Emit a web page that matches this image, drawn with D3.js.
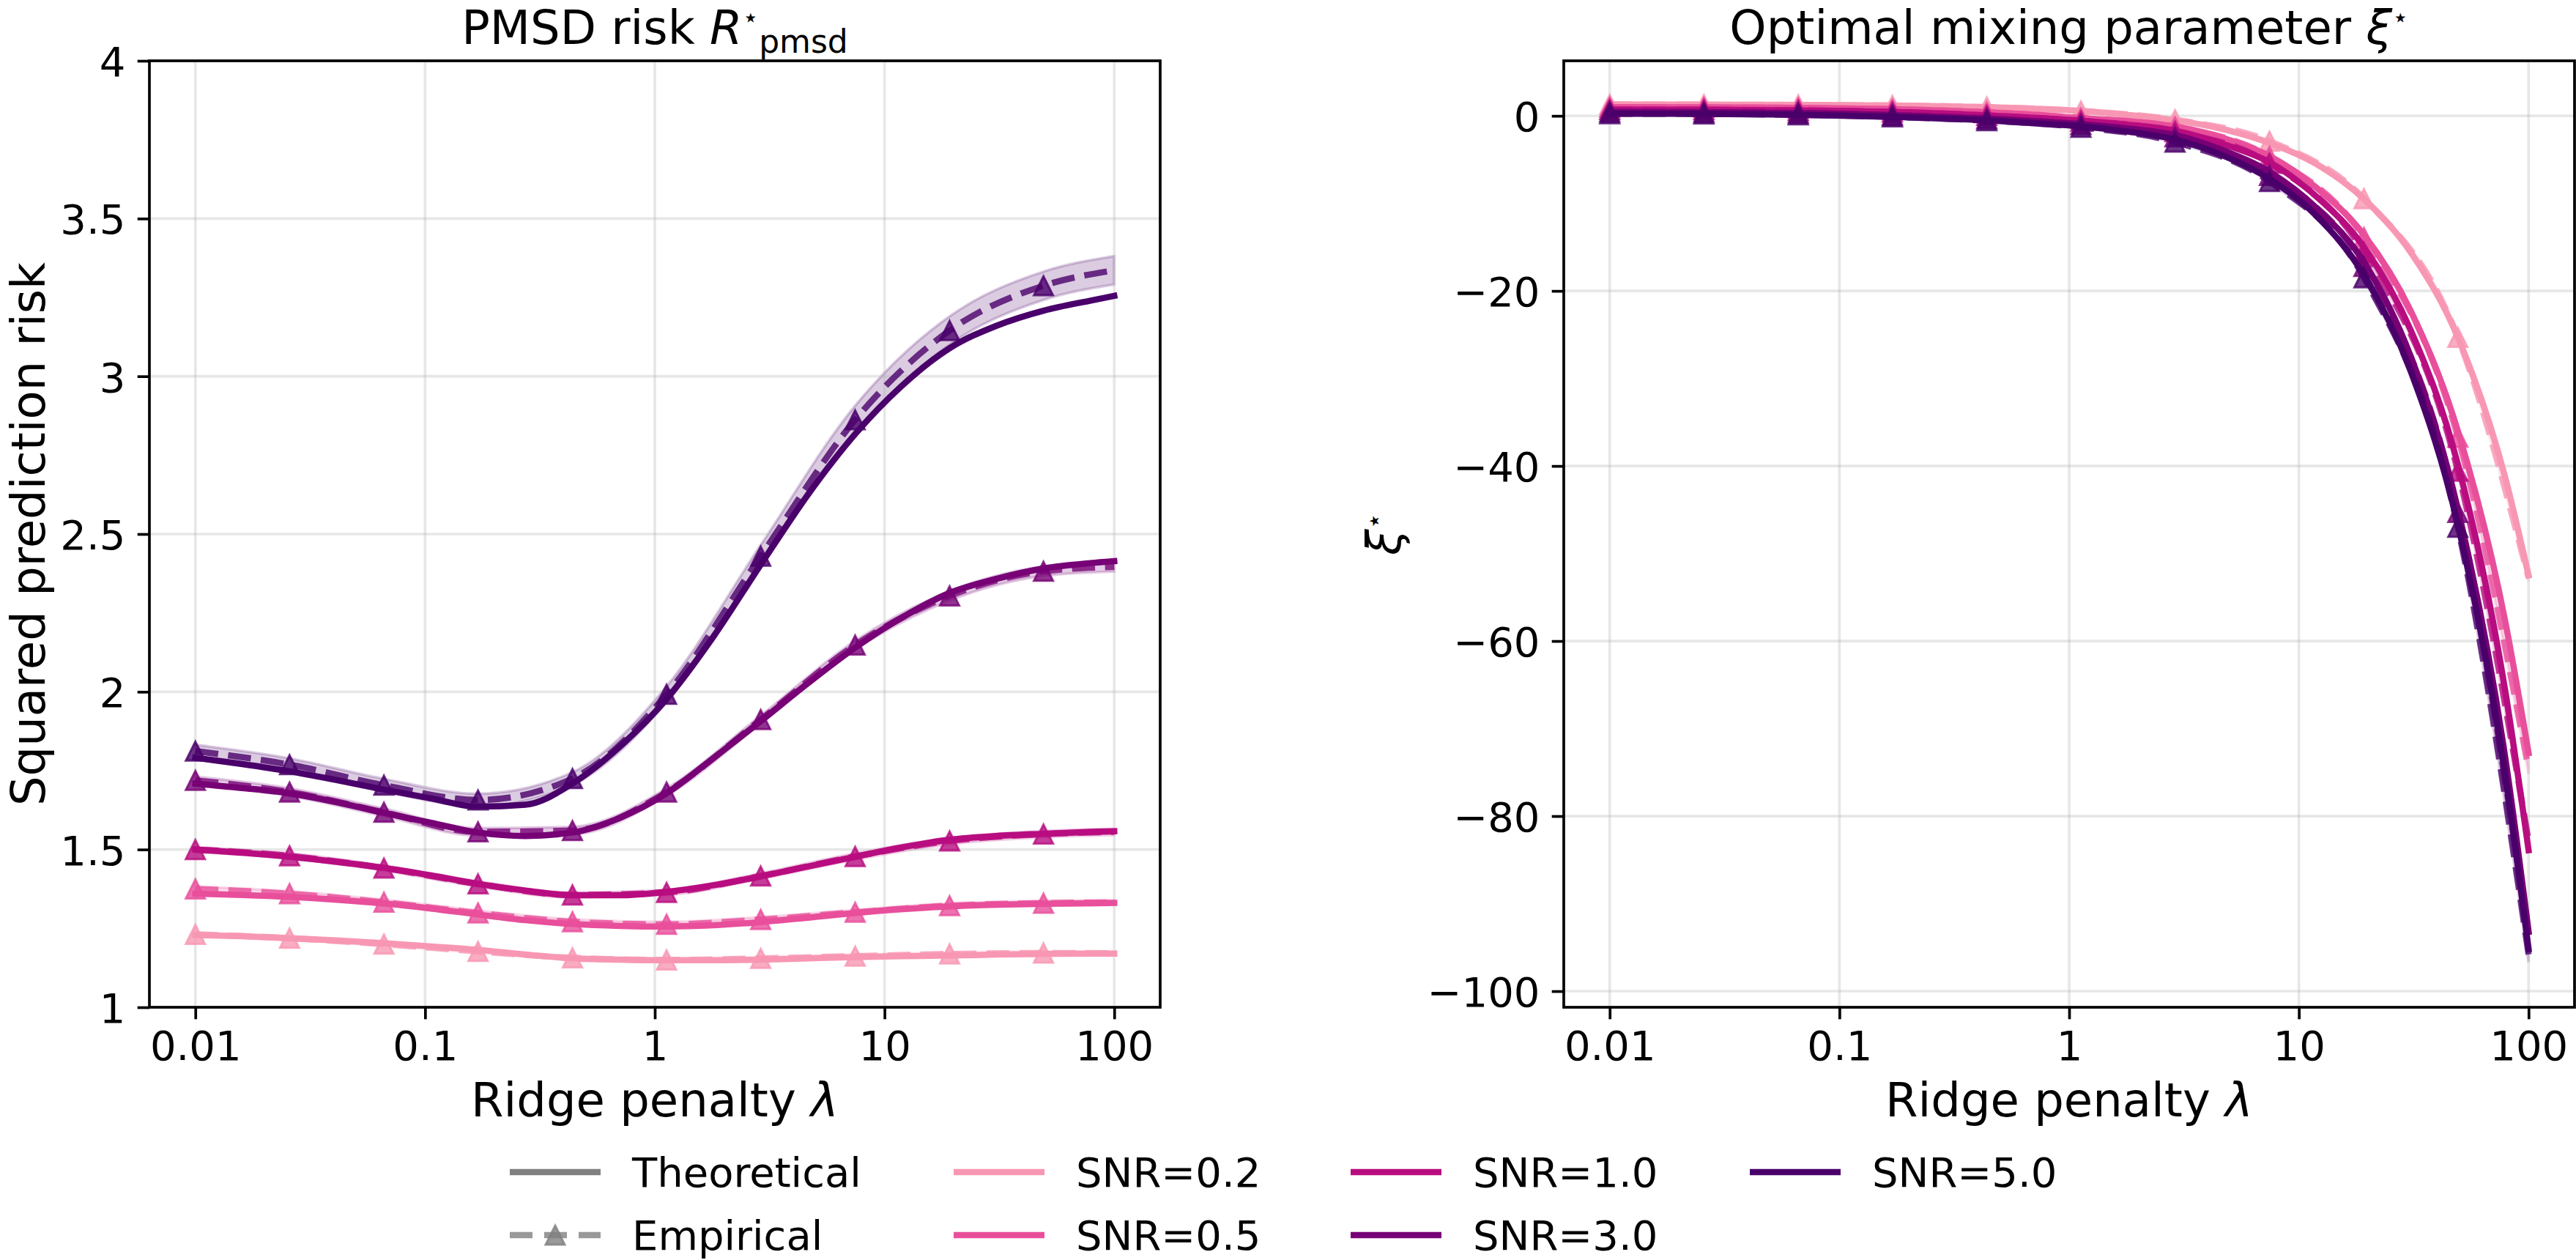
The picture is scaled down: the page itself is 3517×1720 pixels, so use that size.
<!DOCTYPE html>
<html><head><meta charset="utf-8">
<script src="https://cdn.jsdelivr.net/npm/d3@7"></script>
<style>
body{margin:0;background:#fff;}
svg{display:block;}
text{font-family:"DejaVu Sans",sans-serif;fill:#000;}
</style>
</head><body>
<svg id="chart" width="3517" height="1720"></svg>
<script>
// ---------------- DATA ----------------
const lambdaGrid = [0.01, 0.016, 0.0257, 0.0412, 0.0662, 0.106, 0.170, 0.273, 0.438, 0.702, 1.125, 1.80, 2.89, 4.64, 7.45, 11.9, 19.2, 30.7, 49.2, 78.9, 100];
const lambdaEmp = [0.01, 0.0257, 0.0662, 0.170, 0.438, 1.125, 2.89, 7.45, 19.2, 49.2, 100];
const markerCount = 10; // markers on the first 10 empirical points

const snrLabels = ["SNR=0.2", "SNR=0.5", "SNR=1.0", "SNR=3.0", "SNR=5.0"];
const snrColors = ["#f897b3", "#e84f9b", "#b80d80", "#770176", "#4a006a"];

// Left panel: PMSD risk, theoretical
const riskTheory02 = [1.229,1.225,1.219,1.212,1.203,1.193,1.182,1.167,1.155,1.151,1.149,1.149,1.151,1.155,1.159,1.162,1.164,1.167,1.169,1.170,1.170];
const riskTheory05 = [1.360,1.356,1.350,1.341,1.329,1.313,1.294,1.276,1.264,1.258,1.256,1.260,1.270,1.284,1.299,1.311,1.320,1.325,1.328,1.330,1.331];
const riskTheory10 = [1.500,1.490,1.477,1.461,1.442,1.418,1.391,1.370,1.355,1.355,1.366,1.387,1.415,1.446,1.477,1.507,1.531,1.543,1.550,1.556,1.558];
const riskTheory30 = [1.709,1.695,1.678,1.650,1.616,1.585,1.554,1.543,1.554,1.600,1.678,1.790,1.907,2.027,2.140,2.235,2.313,2.358,2.391,2.408,2.414];
const riskTheory50 = [1.791,1.771,1.748,1.720,1.690,1.662,1.636,1.642,1.709,1.825,1.977,2.175,2.403,2.625,2.817,2.970,3.089,3.160,3.208,3.240,3.255];
// Left panel: empirical (mean) and band half-width
const riskEmp02 = [1.231,1.219,1.200,1.177,1.157,1.150,1.155,1.162,1.169,1.172,1.171];
const riskEmp05 = [1.375,1.360,1.333,1.299,1.271,1.263,1.278,1.301,1.322,1.330,1.332];
const riskEmp10 = [1.500,1.480,1.441,1.391,1.356,1.364,1.416,1.478,1.527,1.549,1.556];
const riskEmp30 = [1.719,1.682,1.618,1.556,1.560,1.682,1.912,2.148,2.304,2.382,2.396];
const riskEmp50 = [1.812,1.769,1.704,1.657,1.725,1.992,2.430,2.862,3.145,3.287,3.336];
const riskSd02 = [0.005,0.005,0.005,0.005,0.005,0.005,0.005,0.005,0.005,0.005,0.005];
const riskSd05 = [0.008,0.008,0.008,0.008,0.008,0.008,0.008,0.008,0.008,0.008,0.008];
const riskSd10 = [0.008,0.008,0.008,0.008,0.008,0.008,0.009,0.010,0.010,0.010,0.010];
const riskSd30 = [0.012,0.012,0.012,0.012,0.012,0.012,0.013,0.014,0.015,0.015,0.015];
const riskSd50 = [0.020,0.020,0.020,0.020,0.020,0.025,0.035,0.045,0.045,0.045,0.045];

// Right panel: optimal mixing parameter, theoretical
const xiTheory02 = [1.30,1.29,1.28,1.27,1.25,1.22,1.18,1.11,1.00,0.82,0.55,0.10,-0.50,-1.50,-3.10,-5.50,-9.50,-15.6,-25.3,-41.2,-52.5];
const xiTheory05 = [1.00,0.99,0.97,0.95,0.91,0.85,0.76,0.62,0.42,0.14,-0.25,-0.60,-1.20,-2.50,-4.60,-8.20,-13.6,-22.3,-36.0,-57.6,-72.8];
const xiTheory10 = [0.72,0.71,0.70,0.67,0.63,0.56,0.45,0.28,0.05,-0.22,-0.55,-1.00,-1.70,-3.20,-5.30,-9.20,-15.0,-24.5,-39.8,-65.5,-83.9];
const xiTheory30 = [0.45,0.44,0.42,0.38,0.32,0.22,0.08,-0.12,-0.30,-0.60,-0.95,-1.45,-2.20,-3.90,-6.40,-10.5,-16.7,-27.5,-44.9,-73.1,-93.2];
const xiTheory50 = [0.25,0.24,0.22,0.18,0.12,0.02,-0.12,-0.30,-0.50,-0.85,-1.20,-1.80,-2.70,-4.50,-7.20,-11.4,-18.2,-29.2,-46.7,-75.1,-95.2];
// Right panel: empirical and band half-width
const xiEmp02 = [1.30,1.28,1.25,1.18,1.00,0.55,-0.45,-2.90,-9.46,-25.3,-52.8];
const xiEmp05 = [1.00,0.97,0.91,0.76,0.42,-0.25,-1.25,-4.65,-13.9,-36.7,-74.6];
const xiEmp10 = [0.72,0.70,0.63,0.45,0.05,-0.60,-1.80,-5.40,-15.6,-40.6,-82.8];
const xiEmp30 = [0.45,0.42,0.32,0.08,-0.32,-1.00,-2.40,-6.80,-17.2,-45.3,-93.6];
const xiEmp50 = [0.25,0.22,0.12,-0.12,-0.55,-1.30,-3.00,-7.50,-18.5,-47.0,-95.8];
const xiSd02 = [0.05,0.05,0.05,0.05,0.05,0.05,0.06,0.08,0.12,0.25,0.40];
const xiSd05 = [0.05,0.05,0.05,0.05,0.05,0.05,0.06,0.08,0.15,0.30,0.60];
const xiSd10 = [0.05,0.05,0.05,0.05,0.05,0.05,0.06,0.08,0.15,0.30,0.60];
const xiSd30 = [0.05,0.05,0.05,0.05,0.05,0.05,0.06,0.10,0.20,0.40,0.80];
const xiSd50 = [0.05,0.05,0.05,0.05,0.05,0.05,0.06,0.10,0.20,0.40,0.90];

// Ticks
const xTickValues = [0.01, 0.1, 1, 10, 100];
const xTickLabels = ["0.01", "0.1", "1", "10", "100"];
const riskTickValues = [1, 1.5, 2, 2.5, 3, 3.5, 4];
const riskTickLabels = ["1", "1.5", "2", "2.5", "3", "3.5", "4"];
const xiTickValues = [-100, -80, -60, -40, -20, 0];
const xiTickLabels = ["\u2212100", "\u221280", "\u221260", "\u221240", "\u221220", "0"];

const legendMethodLabels = ["Theoretical", "Empirical"];

// ---------------- DRAWING ----------------
const svg = d3.select("#chart");
const TICK_FS = 56, LABEL_FS = 64, TITLE_FS = 64, LEG_FS = 56;
const LW = 8.5, SPINE = 3.7;

const panels = [
  { x0: 204, x1: 1584, y0: 83, y1: 1375, yDomain: [1, 4],
    yTicks: riskTickValues, yLabels: riskTickLabels,
    theory: [riskTheory02, riskTheory05, riskTheory10, riskTheory30, riskTheory50],
    emp: [riskEmp02, riskEmp05, riskEmp10, riskEmp30, riskEmp50],
    sd: [riskSd02, riskSd05, riskSd10, riskSd30, riskSd50] },
  { x0: 2135, x1: 3515, y0: 83, y1: 1375, yDomain: [-101.84, 6.29],
    yTicks: xiTickValues, yLabels: xiTickLabels,
    theory: [xiTheory02, xiTheory05, xiTheory10, xiTheory30, xiTheory50],
    emp: [xiEmp02, xiEmp05, xiEmp10, xiEmp30, xiEmp50],
    sd: [xiSd02, xiSd05, xiSd10, xiSd30, xiSd50] }
];

const triPath = h => `M0,${-h}L${h},${h}L${-h},${h}Z`;

panels.forEach((p, pi) => {
  const xs = d3.scaleLog().domain([Math.pow(10, -2.2), Math.pow(10, 2.2)]).range([p.x0, p.x1]);
  const ys = d3.scaleLinear().domain(p.yDomain).range([p.y1, p.y0]);
  const g = svg.append("g");
  const clipId = "clip" + pi;
  svg.append("defs").append("clipPath").attr("id", clipId)
    .append("rect").attr("x", p.x0).attr("y", p.y0)
    .attr("width", p.x1 - p.x0).attr("height", p.y1 - p.y0);

  const plot = g.append("g").attr("clip-path", `url(#${clipId})`);

  // bands (below everything)
  p.emp.forEach((e, si) => {
    const pts = lambdaEmp.map((l, i) => [l, e[i] - p.sd[si][i], e[i] + p.sd[si][i]]);
    const area = d3.area().x(d => xs(d[0])).y0(d => ys(d[1])).y1(d => ys(d[2])).curve(d3.curveMonotoneX);
    plot.append("path").attr("d", area(pts))
      .attr("fill", snrColors[si]).attr("fill-opacity", 0.2)
      .attr("stroke", snrColors[si]).attr("stroke-opacity", 0.2).attr("stroke-width", 3.7);
  });

  // grid
  const gridG = plot.append("g");
  xTickValues.forEach(v => {
    gridG.append("line").attr("x1", xs(v)).attr("x2", xs(v)).attr("y1", p.y0).attr("y2", p.y1)
      .attr("stroke", "#b0b0b0").attr("stroke-opacity", 0.3).attr("stroke-width", 3.7);
  });
  p.yTicks.forEach(v => {
    gridG.append("line").attr("x1", p.x0).attr("x2", p.x1).attr("y1", ys(v)).attr("y2", ys(v))
      .attr("stroke", "#b0b0b0").attr("stroke-opacity", 0.3).attr("stroke-width", 3.7);
  });

  const line = d3.line().x(d => xs(d[0])).y(d => ys(d[1])).curve(d3.curveMonotoneX);

  p.theory.forEach((t, si) => {
    const col = snrColors[si];
    plot.append("path").attr("d", line(lambdaGrid.map((l, i) => [l, t[i]])))
      .attr("fill", "none").attr("stroke", col).attr("stroke-width", LW)
      .attr("stroke-linecap", "square").attr("stroke-linejoin", "round");
    const e = p.emp[si];
    plot.append("path").attr("d", line(lambdaEmp.map((l, i) => [l, e[i]])))
      .attr("fill", "none").attr("stroke", col).attr("stroke-opacity", 0.8).attr("stroke-width", LW)
      .attr("stroke-dasharray", `${3.7 * LW},${1.6 * LW}`).attr("stroke-linecap", "butt");
    lambdaEmp.slice(0, markerCount).forEach((l, i) => {
      plot.append("path").attr("d", triPath(13))
        .attr("transform", `translate(${xs(l)},${ys(e[i])})`)
        .attr("fill", col).attr("fill-opacity", 0.8)
        .attr("stroke", col).attr("stroke-opacity", 0.8).attr("stroke-width", 3);
    });
  });

  // axes
  const xAxis = d3.axisBottom(xs).tickValues(xTickValues).tickFormat((d, i) => xTickLabels[i])
    .tickSize(16.3).tickPadding(16.3);
  const yAxis = d3.axisLeft(ys).tickValues(p.yTicks).tickFormat((d, i) => p.yLabels[i])
    .tickSize(16.3).tickPadding(16.3);
  const gx = g.append("g").attr("transform", `translate(0,${p.y1})`).call(xAxis);
  const gy = g.append("g").attr("transform", `translate(${p.x0},0)`).call(yAxis);
  [gx, gy].forEach(ax => {
    ax.attr("font-family", null).attr("font-size", null);
    ax.select(".domain").remove();
    ax.selectAll(".tick line").attr("stroke", "#000").attr("stroke-width", SPINE);
    ax.selectAll(".tick text").attr("fill", "#000").style("font-size", TICK_FS + "px")
      .style("font-family", '"DejaVu Sans", sans-serif');
  });
  gy.selectAll(".tick text").attr("dy", "0.3645em");

  // spines
  g.append("rect").attr("x", p.x0).attr("y", p.y0).attr("width", p.x1 - p.x0).attr("height", p.y1 - p.y0)
    .attr("fill", "none").attr("stroke", "#000").attr("stroke-width", SPINE);

  // x label
  const cx = (p.x0 + p.x1) / 2;
  const xl = g.append("text").attr("x", cx).attr("y", 1524).attr("text-anchor", "middle")
    .style("font-size", LABEL_FS + "px");
  xl.append("tspan").text("Ridge penalty ");
  xl.append("tspan").style("font-style", "italic").text("\u03bb");
});

// Titles
const TITLE_BASE = 60;
{
  const t = svg.append("text").attr("x", 0).attr("y", TITLE_BASE).style("font-size", TITLE_FS + "px");
  t.append("tspan").text("PMSD risk ");
  t.append("tspan").style("font-style", "italic").text("R");
  t.append("tspan").style("font-size", "36px").attr("dy", -24).text("\u22c6");
  t.append("tspan").style("font-size", "44px").attr("dy", 36).text("pmsd");
  const bb = t.node().getBBox();
  t.attr("x", 894 - bb.width / 2);
}
{
  const t = svg.append("text").attr("x", 0).attr("y", TITLE_BASE).style("font-size", TITLE_FS + "px");
  t.append("tspan").text("Optimal mixing parameter ");
  t.append("tspan").style("font-style", "italic").text("\u03be");
  t.append("tspan").style("font-size", "36px").attr("dy", -24).text("\u22c6");
  const bb = t.node().getBBox();
  t.attr("x", 2825 - bb.width / 2);
}

// Y labels
svg.append("text").attr("transform", "translate(61,729) rotate(-90)").attr("text-anchor", "middle")
  .style("font-size", LABEL_FS + "px").text("Squared prediction risk");
{
  const t = svg.append("text").attr("transform", "translate(1912,729) rotate(-90)").attr("text-anchor", "middle")
    .style("font-size", LABEL_FS + "px");
  t.append("tspan").style("font-style", "italic").text("\u03be");
  t.append("tspan").style("font-size", "36px").attr("dy", -24).text("\u22c6");
}

// Legend
const leg = svg.append("g");
const rowY = [1600, 1686];
const colHandle = [696, 1302, 1844, 2389];
const handleLen = 124, textGap = 43;
function legendItem(col, row, label, color, dashed) {
  const x = colHandle[col], y = rowY[row];
  if (dashed) {
    leg.append("line").attr("x1", x).attr("x2", x + handleLen).attr("y1", y).attr("y2", y)
      .attr("stroke", color).attr("stroke-opacity", 0.8).attr("stroke-width", LW)
      .attr("stroke-dasharray", "31,16");
    leg.append("path").attr("d", triPath(13)).attr("transform", `translate(${x + handleLen / 2},${y})`)
      .attr("fill", color).attr("fill-opacity", 0.8).attr("stroke", color).attr("stroke-opacity", 0.8).attr("stroke-width", 3);
  } else {
    leg.append("line").attr("x1", x).attr("x2", x + handleLen).attr("y1", y).attr("y2", y)
      .attr("stroke", color).attr("stroke-width", LW);
  }
  leg.append("text").attr("x", x + handleLen + textGap).attr("y", y).attr("dy", "0.3645em")
    .style("font-size", LEG_FS + "px").text(label);
}
legendItem(0, 0, legendMethodLabels[0], "#808080", false);
legendItem(0, 1, legendMethodLabels[1], "#808080", true);
snrLabels.forEach((lab, i) => {
  legendItem(1 + Math.floor(i / 2), i % 2, lab, snrColors[i], false);
});
</script>
</body></html>
